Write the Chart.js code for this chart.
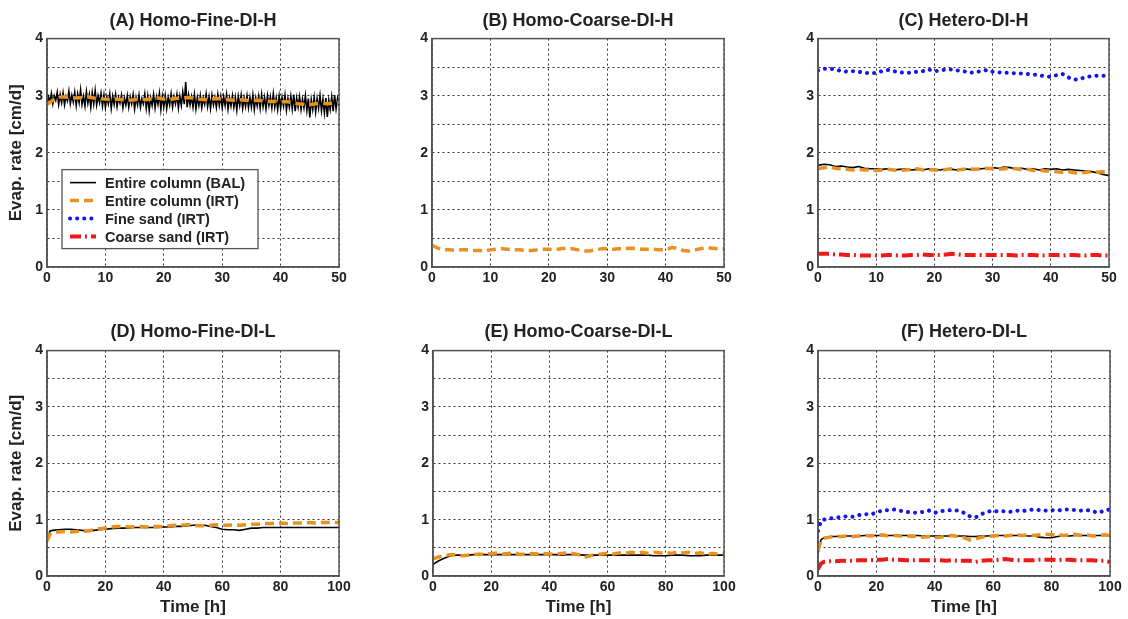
<!DOCTYPE html>
<html>
<head>
<meta charset="utf-8">
<script src="https://cdn.jsdelivr.net/npm/chart.js@4.4.0/dist/chart.umd.min.js"></script>
<style>
  body { margin: 0; background: #fff; }
  #wrap { position: relative; width: 1128px; height: 619px; overflow: hidden; background: #fff; }
  .panel { position: absolute; }
</style>
</head>
<body>
<div id="wrap"></div>
<script>
const FONT = "'Liberation Sans', Arial, sans-serif";
const INK = '#222';

const legendLabels = ['Entire column (BAL)', 'Entire column (IRT)', 'Fine sand (IRT)', 'Coarse sand (IRT)'];

// ---- top row, time 0..50 h ----
// BAL in (A) logged every 0.25 h (noisy balance signal)
const timeA = [];
for (let i = 0; i <= 200; i++) timeA.push(i * 0.25);
const balA = [
  2.84, 2.98, 2.90, 3.04, 2.86, 3.00, 2.92, 3.06, 2.85, 3.02, 2.88, 3.05, 2.84, 2.99, 2.91, 3.08, 2.86, 3.01, 2.89, 3.06,
  2.83, 3.03, 2.88, 3.10, 2.85, 2.99, 2.82, 3.07, 2.87, 3.02, 2.80, 3.05, 2.86, 3.09, 2.84, 3.00, 2.88, 3.04, 2.82, 3.01,
  2.80, 2.98, 2.86, 3.03, 2.78, 2.99, 2.85, 3.02, 2.81, 2.97, 2.87, 3.01, 2.79, 2.96, 2.84, 3.00, 2.80, 2.98, 2.86, 3.02,
  2.77, 2.97, 2.84, 3.01, 2.80, 2.95, 2.86, 3.03, 2.78, 2.99, 2.74, 2.96, 2.83, 3.02, 2.79, 2.98, 2.85, 3.04, 2.76, 2.99,
  2.81, 3.00, 2.78, 2.97, 2.84, 3.03, 2.80, 2.98, 2.86, 3.02, 2.79, 2.99, 2.83, 3.06, 2.85, 3.24, 2.80, 3.01, 2.84, 2.98,
  2.80, 3.02, 2.77, 2.97, 2.83, 3.00, 2.79, 2.96, 2.85, 3.03, 2.81, 2.98, 2.78, 3.01, 2.84, 2.97, 2.80, 3.02, 2.83, 2.99,
  2.79, 2.98, 2.83, 3.02, 2.77, 2.96, 2.82, 3.00, 2.80, 2.97, 2.75, 2.99, 2.83, 3.01, 2.78, 2.96, 2.81, 3.00, 2.79, 2.97,
  2.80, 3.01, 2.76, 2.96, 2.82, 2.99, 2.78, 3.02, 2.81, 2.97, 2.77, 3.00, 2.83, 2.98, 2.79, 3.03, 2.80, 2.96, 2.76, 2.99,
  2.78, 2.97, 2.82, 3.01, 2.75, 2.95, 2.80, 2.99, 2.77, 3.02, 2.73, 2.96, 2.80, 2.98, 2.76, 2.94, 2.79, 3.00, 2.74, 2.95,
  2.62, 2.93, 2.76, 2.97, 2.72, 2.95, 2.78, 3.00, 2.74, 2.94, 2.70, 2.96, 2.63, 2.92, 2.76, 2.98, 2.73, 3.01, 2.77, 2.95,
  2.82
];

// hourly series, 0..50 h
const timeH = [];
for (let i = 0; i <= 50; i++) timeH.push(i);
const irtA = [2.85, 2.92, 2.97, 2.98, 2.97, 2.96, 2.97, 2.98, 2.96, 2.95, 2.94, 2.93, 2.94, 2.93, 2.92, 2.93, 2.94,
  2.93, 2.95, 2.96, 2.94, 2.93, 2.95, 2.96, 2.97, 2.96, 2.94, 2.93, 2.94, 2.95, 2.94, 2.93, 2.92, 2.93,
  2.92, 2.91, 2.92, 2.91, 2.90, 2.90, 2.89, 2.90, 2.88, 2.86, 2.85, 2.84, 2.86, 2.87, 2.86, 2.87, 2.88];
const irtB = [0.38, 0.33, 0.30, 0.30, 0.29, 0.30, 0.30, 0.29, 0.29, 0.28, 0.30, 0.31, 0.32, 0.31, 0.30, 0.30, 0.29,
  0.29, 0.30, 0.31, 0.31, 0.30, 0.32, 0.33, 0.32, 0.30, 0.28, 0.28, 0.30, 0.32, 0.32, 0.31, 0.32, 0.32,
  0.33, 0.32, 0.31, 0.31, 0.31, 0.30, 0.30, 0.34, 0.33, 0.29, 0.28, 0.30, 0.32, 0.34, 0.33, 0.32, 0.32];
const balC = [1.78, 1.80, 1.79, 1.76, 1.77, 1.75, 1.74, 1.76, 1.73, 1.72, 1.72, 1.71, 1.72, 1.70, 1.71, 1.72, 1.70,
  1.71, 1.70, 1.72, 1.71, 1.70, 1.72, 1.71, 1.70, 1.72, 1.71, 1.70, 1.72, 1.73, 1.74, 1.73, 1.75, 1.74,
  1.72, 1.73, 1.71, 1.72, 1.70, 1.72, 1.71, 1.72, 1.70, 1.71, 1.70, 1.69, 1.68, 1.67, 1.65, 1.62, 1.60];
const irtC = [1.72, 1.74, 1.75, 1.73, 1.72, 1.71, 1.70, 1.71, 1.70, 1.70, 1.69, 1.70, 1.71, 1.70, 1.69, 1.70, 1.71,
  1.72, 1.70, 1.71, 1.70, 1.69, 1.71, 1.72, 1.70, 1.71, 1.72, 1.71, 1.72, 1.73, 1.72, 1.71, 1.72, 1.73,
  1.72, 1.70, 1.71, 1.69, 1.70, 1.68, 1.68, 1.67, 1.66, 1.67, 1.65, 1.64, 1.66, 1.67, 1.66, 1.67, 1.67];
const fineC = [3.44, 3.47, 3.47, 3.46, 3.43, 3.42, 3.43, 3.42, 3.40, 3.39, 3.40, 3.43, 3.45, 3.43, 3.41, 3.40, 3.40,
  3.42, 3.43, 3.46, 3.43, 3.44, 3.46, 3.46, 3.44, 3.43, 3.40, 3.41, 3.43, 3.45, 3.42, 3.41, 3.40, 3.40,
  3.39, 3.39, 3.38, 3.37, 3.36, 3.34, 3.33, 3.36, 3.38, 3.32, 3.28, 3.29, 3.33, 3.34, 3.35, 3.35, 3.35];
const coarseC = [0.23, 0.23, 0.23, 0.22, 0.22, 0.21, 0.21, 0.20, 0.20, 0.20, 0.20, 0.20, 0.21, 0.21, 0.20, 0.20, 0.21,
  0.21, 0.22, 0.21, 0.21, 0.21, 0.22, 0.23, 0.22, 0.21, 0.21, 0.21, 0.21, 0.21, 0.21, 0.21, 0.21, 0.21,
  0.20, 0.21, 0.21, 0.21, 0.20, 0.20, 0.21, 0.21, 0.20, 0.21, 0.21, 0.20, 0.20, 0.21, 0.21, 0.20, 0.20];

// ---- bottom row, time 0..100 h (0, 1, then every 2 h) ----
const timeL = [0, 1];
for (let t = 2; t <= 100; t += 2) timeL.push(t);
const balD = [0.60, 0.80, 0.81, 0.82, 0.83, 0.83, 0.82, 0.81, 0.80, 0.81, 0.82, 0.83, 0.84, 0.85, 0.85, 0.85,
  0.86, 0.86, 0.86, 0.86, 0.86, 0.87, 0.87, 0.88, 0.88, 0.89, 0.90, 0.91, 0.90, 0.88, 0.86, 0.83,
  0.82, 0.82, 0.81, 0.83, 0.85, 0.85, 0.86, 0.86, 0.86, 0.86, 0.86, 0.86, 0.86, 0.86, 0.86, 0.86,
  0.86, 0.86, 0.86, 0.86];
const irtD = [0.62, 0.74, 0.77, 0.78, 0.79, 0.78, 0.79, 0.80, 0.80, 0.82, 0.84, 0.85, 0.87, 0.88, 0.88, 0.87,
  0.87, 0.88, 0.87, 0.88, 0.88, 0.87, 0.89, 0.90, 0.90, 0.91, 0.90, 0.89, 0.89, 0.90, 0.91, 0.90,
  0.90, 0.91, 0.90, 0.91, 0.92, 0.92, 0.93, 0.93, 0.93, 0.94, 0.93, 0.94, 0.94, 0.94, 0.95, 0.94,
  0.95, 0.95, 0.95, 0.95];
const balE = [0.20, 0.24, 0.27, 0.32, 0.36, 0.37, 0.37, 0.37, 0.38, 0.38, 0.38, 0.38, 0.38, 0.38, 0.38, 0.38,
  0.38, 0.38, 0.38, 0.38, 0.38, 0.38, 0.38, 0.37, 0.38, 0.38, 0.38, 0.37, 0.37, 0.37, 0.37, 0.37,
  0.37, 0.37, 0.37, 0.37, 0.37, 0.37, 0.37, 0.36, 0.36, 0.36, 0.37, 0.37, 0.37, 0.36, 0.36, 0.36,
  0.37, 0.37, 0.37, 0.37];
const irtE = [0.30, 0.32, 0.34, 0.36, 0.38, 0.37, 0.36, 0.37, 0.38, 0.39, 0.38, 0.40, 0.41, 0.39, 0.40, 0.41,
  0.38, 0.39, 0.40, 0.39, 0.40, 0.39, 0.38, 0.40, 0.41, 0.40, 0.38, 0.33, 0.36, 0.38, 0.39, 0.40,
  0.39, 0.41, 0.40, 0.42, 0.41, 0.42, 0.40, 0.42, 0.41, 0.42, 0.40, 0.43, 0.41, 0.42, 0.40, 0.41,
  0.38, 0.40, 0.39, 0.40];
const balF = [0.40, 0.64, 0.68, 0.70, 0.70, 0.71, 0.71, 0.71, 0.71, 0.72, 0.72, 0.72, 0.72, 0.72, 0.72, 0.72,
  0.72, 0.72, 0.72, 0.71, 0.71, 0.71, 0.71, 0.71, 0.71, 0.71, 0.71, 0.70, 0.70, 0.71, 0.71, 0.72,
  0.72, 0.72, 0.72, 0.72, 0.72, 0.71, 0.71, 0.69, 0.68, 0.68, 0.70, 0.71, 0.71, 0.72, 0.72, 0.72,
  0.72, 0.72, 0.72, 0.72];
const irtF = [0.45, 0.62, 0.67, 0.69, 0.70, 0.70, 0.71, 0.70, 0.71, 0.72, 0.71, 0.72, 0.73, 0.71, 0.72, 0.71,
  0.72, 0.70, 0.71, 0.69, 0.70, 0.68, 0.69, 0.71, 0.72, 0.70, 0.68, 0.64, 0.66, 0.69, 0.70, 0.71,
  0.72, 0.71, 0.72, 0.73, 0.72, 0.73, 0.72, 0.73, 0.74, 0.73, 0.74, 0.72, 0.73, 0.74, 0.72, 0.73,
  0.71, 0.72, 0.73, 0.72];
const fineF = [0.80, 0.98, 1.00, 1.02, 1.03, 1.05, 1.06, 1.05, 1.08, 1.10, 1.09, 1.13, 1.16, 1.17, 1.18, 1.16,
  1.14, 1.13, 1.12, 1.14, 1.16, 1.12, 1.15, 1.16, 1.17, 1.16, 1.12, 1.06, 1.04, 1.10, 1.14, 1.16,
  1.14, 1.15, 1.14, 1.16, 1.15, 1.17, 1.18, 1.17, 1.16, 1.17, 1.16, 1.18, 1.18, 1.17, 1.16, 1.17,
  1.15, 1.12, 1.16, 1.18];
const coarseF = [0.12, 0.22, 0.25, 0.26, 0.26, 0.27, 0.27, 0.27, 0.28, 0.28, 0.28, 0.29, 0.29, 0.30, 0.29, 0.29,
  0.28, 0.28, 0.28, 0.28, 0.28, 0.28, 0.28, 0.27, 0.28, 0.27, 0.27, 0.27, 0.25, 0.27, 0.28, 0.28,
  0.29, 0.30, 0.29, 0.28, 0.28, 0.28, 0.28, 0.29, 0.29, 0.29, 0.28, 0.29, 0.29, 0.28, 0.28, 0.28,
  0.28, 0.27, 0.27, 0.25];

const STYLE = {
  bal:    { borderColor: '#000', borderWidth: 1.6 },
  irt:    { borderColor: '#E8911F', borderWidth: 3.5, borderDash: [9, 5] },
  fine:   { borderColor: '#1414F0', borderWidth: 4, borderDash: [0.1, 7], borderCapStyle: 'round' },
  coarse: { borderColor: '#F01818', borderWidth: 4, borderDash: [11, 4, 2, 4] }
};
const legendKeys = ['bal', 'irt', 'fine', 'coarse'];

function series(kind, times, vals) {
  return Object.assign({
    data: vals.map((v, i) => ({ x: times[i], y: v })),
    showLine: true, pointRadius: 0, fill: false, tension: 0
  }, STYLE[kind]);
}

// box round the plot area, like the MATLAB axes; also centre the title over the plot
const boxPlugin = {
  id: 'box',
  afterLayout(chart) {
    const t = chart.titleBlock, a = chart.chartArea;
    if (t) {
      t.left = a.left;
      t.right = a.right;
      t.width = a.right - a.left;
    }
  },
  afterDraw(chart) {
    const a = chart.chartArea, ctx = chart.ctx;
    ctx.save();
    ctx.strokeStyle = '#555';
    ctx.lineWidth = 1.5;
    ctx.setLineDash([]);
    ctx.strokeRect(a.left, a.top, a.right - a.left, a.bottom - a.top);
    ctx.restore();
  }
};

// legend box drawn inside panel A
const legendPlugin = {
  id: 'boxLegend',
  afterDraw(chart) {
    const a = chart.chartArea, ctx = chart.ctx;
    const x0 = a.left + 15, y0 = a.top + 131, w = 196, h = 79;
    ctx.save();
    ctx.fillStyle = '#fff';
    ctx.fillRect(x0, y0, w, h);
    ctx.strokeStyle = '#555';
    ctx.lineWidth = 1.3;
    ctx.strokeRect(x0, y0, w, h);
    ctx.font = 'bold 14.5px ' + FONT;
    ctx.textBaseline = 'middle';
    legendKeys.forEach((k, i) => {
      const st = STYLE[k];
      const y = y0 + 13 + i * 18;
      ctx.strokeStyle = st.borderColor;
      ctx.lineWidth = st.borderWidth;
      ctx.lineCap = st.borderCapStyle || 'butt';
      ctx.setLineDash(st.borderDash || []);
      ctx.beginPath();
      ctx.moveTo(x0 + 8, y);
      ctx.lineTo(x0 + 34, y);
      ctx.stroke();
      ctx.fillStyle = INK;
      ctx.fillText(legendLabels[i], x0 + 43, y + 1);
    });
    ctx.restore();
  }
};

const panels = [
  { left: 0,   top: 0,   w: 386, h: 300, yw: 47, padR: 47, xmax: 50,  xstep: 10, title: '(A) Homo-Fine-DI-H', yTitle: true,
    sets: [series('irt', timeH, irtA), series('bal', timeA, balA)], legend: true },
  { left: 380, top: 0,   w: 396, h: 300, yw: 52, padR: 52, xmax: 50,  xstep: 10, title: '(B) Homo-Coarse-DI-H',
    sets: [series('irt', timeH, irtB)] },
  { left: 760, top: 0,   w: 407, h: 300, yw: 58, padR: 58, xmax: 50,  xstep: 10, title: '(C) Hetero-DI-H',
    sets: [series('irt', timeH, irtC), series('bal', timeH, balC), series('fine', timeH, fineC), series('coarse', timeH, coarseC)] },
  { left: 0,   top: 300, w: 386, h: 319, yw: 47, padR: 47, xmax: 100, xstep: 20, title: '(D) Homo-Fine-DI-L', yTitle: true, xTitle: true,
    sets: [series('irt', timeL, irtD), series('bal', timeL, balD)] },
  { left: 380, top: 300, w: 397, h: 319, yw: 53, padR: 53, xmax: 100, xstep: 20, title: '(E) Homo-Coarse-DI-L', xTitle: true,
    sets: [series('irt', timeL, irtE), series('bal', timeL, balE)] },
  { left: 760, top: 300, w: 408, h: 319, yw: 58, padR: 58, xmax: 100, xstep: 20, title: '(F) Hetero-DI-L', xTitle: true,
    sets: [series('irt', timeL, irtF), series('bal', timeL, balF), series('fine', timeL, fineF), series('coarse', timeL, coarseF)] }
];

const wrap = document.getElementById('wrap');

panels.forEach(p => {
  const div = document.createElement('div');
  div.className = 'panel';
  div.style.left = p.left + 'px';
  div.style.top = p.top + 'px';
  div.style.width = p.w + 'px';
  div.style.height = p.h + 'px';
  const canvas = document.createElement('canvas');
  canvas.width = p.w;
  canvas.height = p.h;
  div.appendChild(canvas);
  wrap.appendChild(div);

  const topRow = p.top === 0;
  const titlePad = topRow ? { top: 10, bottom: 7 } : { top: 21, bottom: 8 };
  const xh = topRow ? 33 : 43;

  new Chart(canvas.getContext('2d'), {
    type: 'scatter',
    data: { datasets: p.sets },
    options: {
      responsive: false,
      animation: false,
      events: [],
      layout: { padding: { left: 0, right: p.padR, top: 0, bottom: 0 } },
      plugins: {
        legend: { display: false },
        tooltip: { enabled: false },
        title: {
          display: true, text: p.title, color: INK,
          font: { family: FONT, size: 18, weight: 'bold' }, padding: titlePad
        }
      },
      scales: {
        x: {
          type: 'linear', min: 0, max: p.xmax,
          afterFit: s => { s.height = xh; },
          ticks: { stepSize: p.xstep, color: INK, padding: 3, maxRotation: 0,
                   font: { family: FONT, size: 14, weight: 'bold' } },
          grid: { color: '#333', lineWidth: 1, drawTicks: false },
          border: { color: '#555', width: 1.5, dash: [2, 3] },
          title: { display: !!p.xTitle, text: 'Time [h]', color: INK,
                   font: { family: FONT, size: 17, weight: 'bold' }, padding: { top: 0, bottom: 1 } }
        },
        y: {
          min: 0, max: 4,
          afterFit: s => { s.width = p.yw; },
          ticks: { stepSize: 0.5, color: INK, padding: 4, autoSkip: false,
                   font: { family: FONT, size: 14, weight: 'bold' },
                   callback: v => Number.isInteger(v) ? String(v) : '' },
          grid: { color: '#333', lineWidth: 1, drawTicks: false },
          border: { color: '#555', width: 1.5, dash: [2, 3] },
          title: { display: !!p.yTitle, text: 'Evap. rate [cm/d]', color: INK,
                   font: { family: FONT, size: 17, weight: 'bold' }, padding: { top: 6, bottom: 0 } }
        }
      }
    },
    plugins: p.legend ? [boxPlugin, legendPlugin] : [boxPlugin]
  });
});
</script>
</body>
</html>
